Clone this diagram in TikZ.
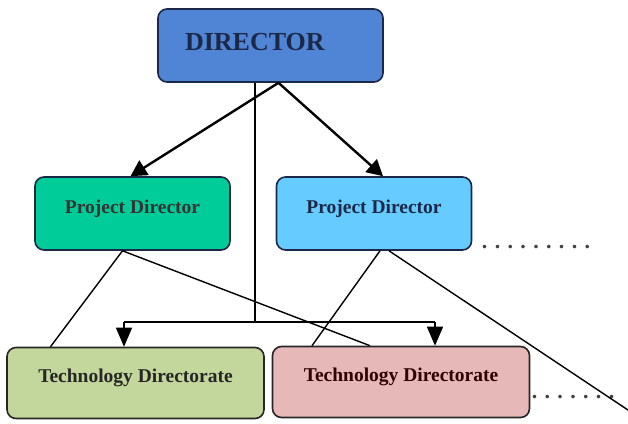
\documentclass[tikz,border=0pt]{standalone}
\usepackage{fontspec}
\setmainfont{Liberation Serif}
\usetikzlibrary{arrows.meta}

\definecolor{dirblue}{RGB}{79,133,212}
\definecolor{pdgreen}{RGB}{0,204,153}
\definecolor{pdblue}{RGB}{102,204,255}
\definecolor{tdgreen}{RGB}{195,214,155}
\definecolor{tdpink}{RGB}{230,185,184}
\definecolor{navy}{RGB}{28,40,72}

\begin{document}
\begin{tikzpicture}[
  x=1pt, y=-1pt,
  orgbox/.style={draw=navy, line width=1.6pt, rounded corners=9pt, inner sep=0pt,
    font=\bfseries\fontsize{19.5}{22}\selectfont},
  dirbox/.style={orgbox, fill=dirblue, text=navy, minimum height=73pt,
    text width=171pt, align=left, inner xsep=27pt,
    font=\bfseries\fontsize{26}{30}\selectfont, text height=18pt, text depth=7.8pt},
  pdbox/.style={orgbox, minimum width=195pt, minimum height=73pt, text height=13pt, text depth=13pt},
  tdbox/.style={orgbox, draw=black!85, minimum width=257pt, minimum height=71pt, text height=13pt, text depth=14.4pt},
  bigarrow/.style={line width=2.4pt, -{Triangle[length=16pt,width=17pt]}},
  busarrow/.style={line width=1.4pt, -{Triangle[length=19pt,width=16pt]}},
  link/.style={line width=1.4pt},
  moredots/.style={anchor=base, font=\bfseries\fontsize{22}{24}\selectfont, text=black!75},
]
  \useasboundingbox (0,0) rectangle (628,423);

  % boxes
  \node[dirbox] (dir) at (270.5,45.5) {DIRECTOR};
  \node[pdbox, fill=pdgreen, text=black!80] (pdL) at (132.5,213.5) {Project Director};
  \node[pdbox, fill=pdblue, text=navy] (pdR) at (374,213.5) {Project Director};
  \node[tdbox, fill=tdgreen, text=black!85] (tdL) at (135.5,383) {Technology Directorate};
  \node[tdbox, fill=tdpink, text=black!70!red!60!black] (tdR) at (401,382) {Technology Directorate};

  \node[moredots] (moreP) at (536,248) {. . . . . . . . .};
  \node[moredots] (moreT) at (573,398) {. . . . . . .};

  % director to project directors
  \draw[bigarrow] ([xshift=8pt]dir.south) -- ([xshift=-2pt]pdL.north);
  \draw[bigarrow] ([xshift=8pt]dir.south) -- ([xshift=9pt]pdR.north);

  % director to directorates
  \coordinate (busM) at (255,322);
  \coordinate (busL) at (124,322);
  \coordinate (busR) at (435,322);
  \draw[link] ([xshift=-15.5pt]dir.south) -- (busM);
  \draw[link] (busL) -- (busR);
  \draw[busarrow] (busL) -- (busL |- tdL.north);
  \draw[busarrow] (busR) -- (busR |- tdR.north);

  % project directors to directorates
  \coordinate (edge) at (628,410);
  \draw[link] ([xshift=-10pt]pdL.south) -- ([xshift=-85pt]tdL.north);
  \draw[link] ([xshift=-10pt]pdL.south) -- ([xshift=-31pt]tdR.north);
  \draw[link] ([xshift=6pt]pdR.south) -- ([xshift=-89pt]tdR.north);
  \draw[link] ([xshift=15pt]pdR.south) -- (edge);
\end{tikzpicture}
\end{document}
